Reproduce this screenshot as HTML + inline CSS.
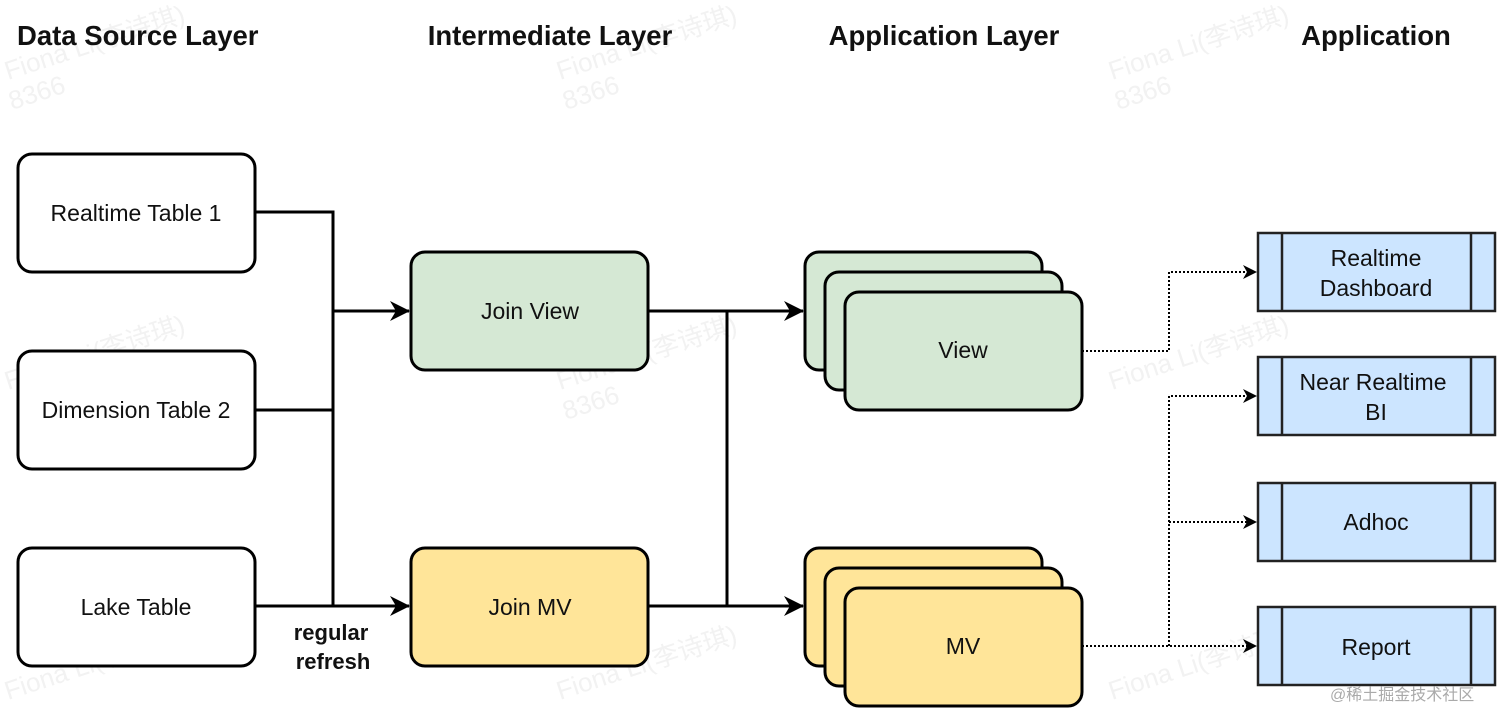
<!DOCTYPE html>
<html><head><meta charset="utf-8"><style>
html,body{margin:0;padding:0;background:#fff;width:1512px;height:724px;overflow:hidden}
svg{display:block}
text{font-family:"Liberation Sans","Noto Sans CJK SC",sans-serif}
</style></head><body>
<svg width="1512" height="724" viewBox="0 0 1512 724" xmlns="http://www.w3.org/2000/svg">
<defs>
<marker id="a" markerWidth="14" markerHeight="14" refX="12" refY="7" orient="auto" markerUnits="userSpaceOnUse"><path d="M0,0 L14,7 L0,14 L4,7 Z" fill="#000"/></marker>
<marker id="b" markerWidth="20" markerHeight="20" refX="19" refY="10" orient="auto" markerUnits="userSpaceOnUse"><path d="M0,0 L20,10 L0,20 L6,10 Z" fill="#000"/></marker>
</defs>
<g fill="#f2f2f2" font-size="26">
<text transform="translate(8,80) rotate(-18)">Fiona Li(李诗琪)</text><text transform="translate(12,110) rotate(-18)">8366</text>
<text transform="translate(560,80) rotate(-18)">Fiona Li(李诗琪)</text><text transform="translate(566,110) rotate(-18)">8366</text>
<text transform="translate(1112,80) rotate(-18)">Fiona Li(李诗琪)</text><text transform="translate(1118,110) rotate(-18)">8366</text>
<text transform="translate(8,390) rotate(-18)">Fiona Li(李诗琪)</text>
<text transform="translate(560,390) rotate(-18)">Fiona Li(李诗琪)</text><text transform="translate(566,420) rotate(-18)">8366</text>
<text transform="translate(1112,390) rotate(-18)">Fiona Li(李诗琪)</text>
<text transform="translate(8,700) rotate(-18)">Fiona Li(李诗琪)</text>
<text transform="translate(560,700) rotate(-18)">Fiona Li(李诗琪)</text>
<text transform="translate(1112,700) rotate(-18)">Fiona Li(李诗琪)</text>
</g>
<g font-weight="bold" font-size="27.5" fill="#111">
<text x="17" y="45">Data Source Layer</text>
<text x="550" y="45" text-anchor="middle">Intermediate Layer</text>
<text x="944" y="45" text-anchor="middle">Application Layer</text>
<text x="1376" y="45" text-anchor="middle">Application</text>
</g>
<g stroke="#000" stroke-width="3" fill="#fff">
<rect x="18" y="154" width="237" height="118" rx="14"/>
<rect x="18" y="351" width="237" height="118" rx="14"/>
<rect x="18" y="548" width="237" height="118" rx="14"/>
<rect x="411" y="252" width="237" height="118" rx="14" fill="#d5e8d4"/>
<rect x="411" y="548" width="237" height="118" rx="14" fill="#ffe599"/>
<rect x="805" y="252" width="237" height="118" rx="14" fill="#d5e8d4"/>
<rect x="825" y="272" width="237" height="118" rx="14" fill="#d5e8d4"/>
<rect x="845" y="292" width="237" height="118" rx="14" fill="#d5e8d4"/>
<rect x="805" y="548" width="237" height="118" rx="14" fill="#ffe599"/>
<rect x="825" y="568" width="237" height="118" rx="14" fill="#ffe599"/>
<rect x="845" y="588" width="237" height="118" rx="14" fill="#ffe599"/>
</g>
<g stroke="#222" stroke-width="2.5" fill="#cce5ff">
<rect x="1258" y="233" width="237" height="78"/><path d="M1282,233V311M1471,233V311" fill="none"/>
<rect x="1258" y="357" width="237" height="78"/><path d="M1282,357V435M1471,357V435" fill="none"/>
<rect x="1258" y="483" width="237" height="78"/><path d="M1282,483V561M1471,483V561" fill="none"/>
<rect x="1258" y="607" width="237" height="78"/><path d="M1282,607V685M1471,607V685" fill="none"/>
</g>
<g stroke="#000" stroke-width="3" fill="none">
<path d="M255,212H333V606M255,410H333"/>
<path d="M333,311H409" marker-end="url(#b)"/>
<path d="M255,606H409" marker-end="url(#b)"/>
<path d="M648,311H803" marker-end="url(#b)"/>
<path d="M648,606H803" marker-end="url(#b)"/>
<path d="M727,311V606"/>
</g>
<g stroke="#000" stroke-width="2" stroke-dasharray="2,2" fill="none">
<path d="M1082,351H1169V272H1255" marker-end="url(#a)"/>
<path d="M1082,646H1255" marker-end="url(#a)"/>
<path d="M1169,646V396H1255" marker-end="url(#a)"/>
<path d="M1169,522H1255" marker-end="url(#a)"/>
</g>
<g font-size="23" fill="#111" text-anchor="middle">
<text x="136" y="221">Realtime Table 1</text>
<text x="136" y="418">Dimension Table 2</text>
<text x="136" y="615">Lake Table</text>
<text x="530" y="319">Join View</text>
<text x="530" y="615">Join MV</text>
<text x="963" y="358">View</text>
<text x="963" y="654">MV</text>
<text x="1376" y="266">Realtime</text>
<text x="1376" y="296">Dashboard</text>
<text x="1373" y="390">Near Realtime</text>
<text x="1376" y="420">BI</text>
<text x="1376" y="530">Adhoc</text>
<text x="1376" y="655">Report</text>
<text x="331" y="640" font-weight="bold" font-size="22">regular</text>
<text x="333" y="669" font-weight="bold" font-size="22">refresh</text>
</g>
<text x="1330" y="700" font-size="16" fill="#aaa">@稀土掘金技术社区</text>
</svg>
</body></html>
